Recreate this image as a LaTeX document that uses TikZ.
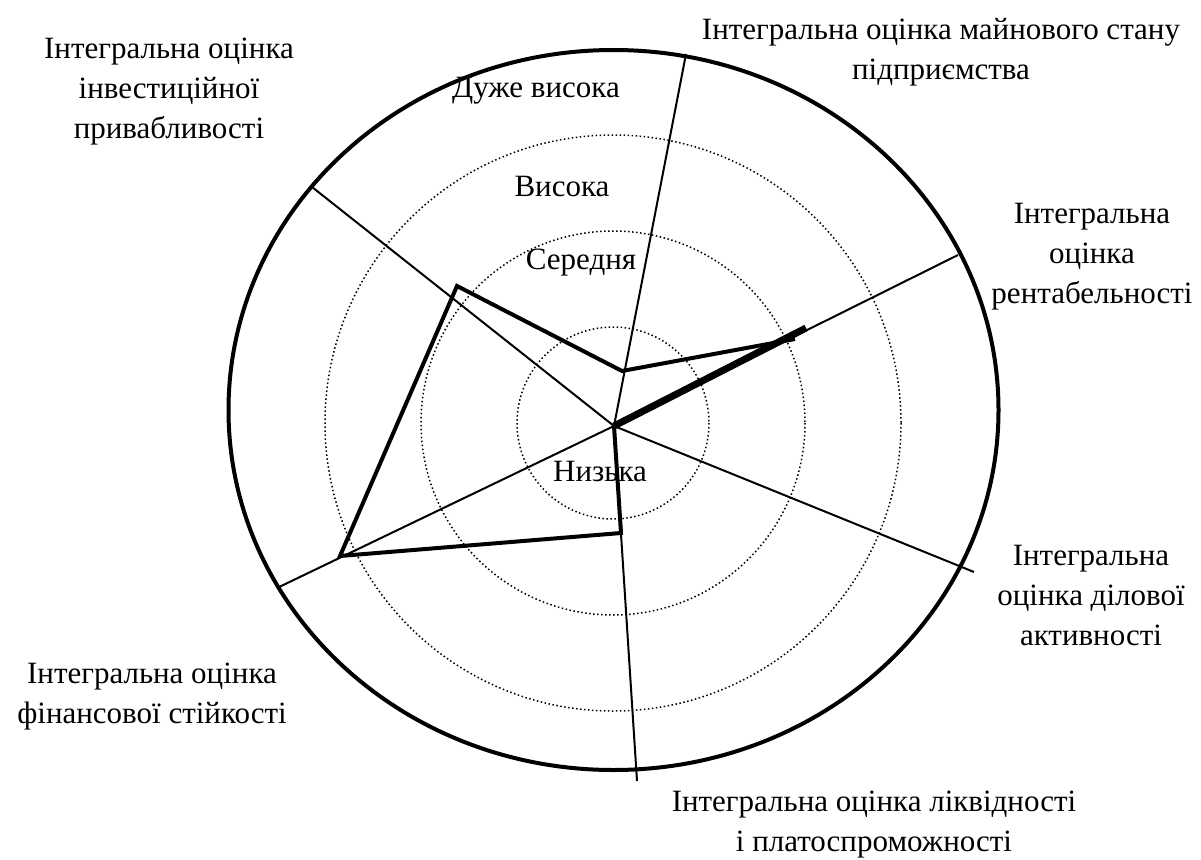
\documentclass[tikz,border=0pt]{standalone}
\usepackage{fontspec}
\setmainfont{Liberation Serif}
\begin{document}
\begin{tikzpicture}[x=1pt,y=-1pt,
  lbl/.style={inner sep=0pt,align=center,font=\fontsize{31}{40}\selectfont},
  ring/.style={line width=1.5pt,dash pattern=on 1.5pt off 2.5pt},
  rim/.style={line width=4pt},
  spoke/.style={line width=2pt},
  datum/.style={line width=4pt,line join=miter},
  datumbold/.style={line width=7pt}]
\useasboundingbox (0,0) rectangle (1201,859);

% centre of the chart and grade rings
\coordinate (O) at (614,426);
\foreach \r in {96,192,288}
  \draw[ring] (613,423) circle[radius=\r];
\draw[rim] (613.5,410) ellipse[x radius=385,y radius=360];

% axis ends
\coordinate (s1) at (686,54);
\coordinate (s2) at (958,255);
\coordinate (s3) at (974,572);
\coordinate (s4) at (637,781);
\coordinate (s5) at (277,588);
\coordinate (s6) at (312,187);
\foreach \s in {s1,s2,s3,s4,s5,s6}
  \draw[spoke] (O) -- (\s);

% values on the axes
\coordinate (vA) at (622,371);
\coordinate (vB) at (795,339);
\coordinate (vB2) at (806,328);
\coordinate (vD) at (621,533);
\coordinate (vE) at (340,556);
\coordinate (vF) at (457,286);
\draw[datum] (vB) -- (vA) -- (vF) -- (vE) -- (vD) -- (O);
\draw[datumbold] (O) -- (vB2);

% axis captions
\node[lbl] (t1) at (941,52) {Інтегральна оцінка майнового стану\\підприємства};
\node[lbl] (t2) at (1092,257) {Інтегральна\\оцінка\\рентабельності};
\node[lbl] (t3) at (1091,595) {Інтегральна\\оцінка ділової\\активності};
\node[lbl] (t4) at (874,825) {Інтегральна оцінка ліквідності\\і платоспроможності};
\node[lbl] (t5) at (152,697) {Інтегральна оцінка\\фінансової стійкості};
\node[lbl] (t6) at (169,92) {Інтегральна оцінка\\інвестиційної\\привабливості};

% grade captions
\node[lbl] (g1) at (536,91) {Дуже висока};
\node[lbl] (g2) at (562,187) {Висока};
\node[lbl] (g3) at (581,263) {Середня};
\node[lbl] (g4) at (600,471) {Низька};
\end{tikzpicture}
\end{document}
